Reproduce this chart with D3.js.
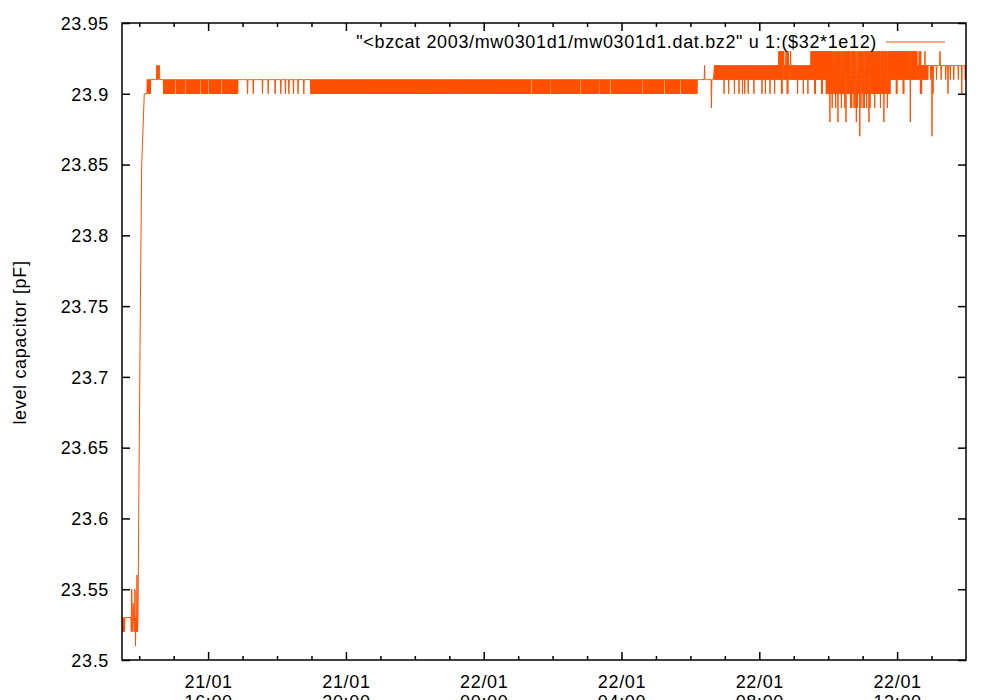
<!DOCTYPE html>
<html><head><meta charset="utf-8">
<script src="https://cdn.jsdelivr.net/npm/d3@7"></script>
<style>
body{margin:0;background:#fff}
svg{display:block}
text{font-family:"Liberation Sans",Arial,Helvetica,sans-serif;fill:#000;letter-spacing:0.65px}
</style>
</head><body>
<svg id="c" width="1000" height="700"></svg>
<script>
// ---------------- data ----------------
const xDomain = ["21/01/2003 13:30", "22/01/2003 14:00"];
const yDomain = [23.5, 23.95];
const yTicks = [23.5, 23.55, 23.6, 23.65, 23.7, 23.75, 23.8, 23.85, 23.9, 23.95];
const yTickLabels = ["23.5","23.55","23.6","23.65","23.7","23.75","23.8","23.85","23.9","23.95"];
const xMajorTicks = ["21/01/2003 16:00","21/01/2003 20:00","22/01/2003 00:00","22/01/2003 04:00","22/01/2003 08:00","22/01/2003 12:00"];
const xTickDates = ["21/01","21/01","22/01","22/01","22/01","22/01"];
const xTickTimes = ["16:00","20:00","00:00","04:00","08:00","12:00"];
const legendText = "\"<bzcat 2003/mw0301d1/mw0301d1.dat.bz2\" u 1:($32*1e12)";
const yLabel = "level capacitor [pF]";

// start-up transient: minutes after 13:30 and level [pF]
const startupMinutes = [0,0.9,1.7,2.6,3.5,4.4,5.2,15.7,16.2,17.0,17.8,18.6,19.4,20.2,21.5,22.6,23.5,24.4,25.3,26.1,27.0,27.9,29.6,31.4,33.1,34.3,36.6,38.8,43.5];
const startupValues  = [23.53,23.52,23.53,23.52,23.53,23.52,23.53,23.53,23.52,23.55,23.53,23.52,23.54,23.53,23.52,23.55,23.51,23.53,23.52,23.56,23.52,23.53,23.63,23.72,23.80,23.85,23.875,23.90,23.90];

// after start-up: 2-minute buckets, each bucket holds the readings listed
// for its code (in 0.01 pF above 23.90)
const codedStartMinute = 44;
const bucketMinutes = 2;
const levelBase = 23.90;
const levelCodes = {
  a:[1], c:[2], k:[1,2,2,2,2,1],
  A:[1,0,1,0], d:[1,0,1], u:[1,2,1], f:[1,-1,1],
  B:[2,1,2,1], E:[2,1,0,1,2,1], T:[2,3,2,1],
  C:[3,2,1,2,3,2,1,2], D:[3,2,1,0,1,2,3,2,1,0],
  F:[3,2,1,0,-1,0,1,2], G:[3,2,1,0,-2,0,1,2], H:[3,2,1,0,-3,0,1,2],
  b:[2,1,2], t:[2,3,2], p:[2,0,2], h:[2,1,-3,1,2]
};
const levelRuns = [
  "A3 a5 k3 a3",
  "A10 a A8 a A12 a A6 a A10 a A14",
  "a8 d a4 d a7 d a4 d a5 d a4 d a3 d a2 d a3 d a3 d a4 d a5",
  "A183",
  "A9 a A16 a A25 a A15 a A9 a A27 a A18 a A13 a A14",
  "a6 u a5 f a2",
  "B8 E B3 E B4 E B3 E B2 E B1 E B2 E B4 E B6 E B2 E B3 E B3 E B3",
  "C2 D C T B T D T B T B",
  "B4 E B4 E B3 E B2",
  "C3 D C5 D C3",
  "D3 G D F D2 F D G D2 F D2 F G D3 F2 D F2 G F D H F D F2 D F D G F D3 F D4 F D2 G D2 F D2",
  "C5 D C5 D C5 G C5",
  "T B T D E B2 T B2",
  "c2 b h p c2 b c2 t b c3 b c p c b c2 b c3 b c2 p c2 b c2 b"
];

// ---------------- chart ----------------
const parseT = d3.timeParse("%d/%m/%Y %H:%M");
const t0 = parseT(xDomain[0]);
const L = 122, R = 966, T = 23, B = 660;
const color = "#ff5000";

const x = d3.scaleTime().domain(xDomain.map(parseT)).range([L, R]);
const y = d3.scaleLinear().domain(yDomain).range([B, T]);

const pts = [];
startupMinutes.forEach((m, i) => pts.push({t: new Date(+t0 + m * 60000), v: startupValues[i]}));
let k = 0;
levelRuns.join(" ").split(/\s+/).filter(s => s).forEach(tok => {
  const code = tok[0];
  const n = tok.length > 1 ? +tok.slice(1) : 1;
  const vals = levelCodes[code];
  for (let r = 0; r < n; r++) {
    vals.forEach((v, j) => {
      const m = codedStartMinute + (k + j / vals.length) * bucketMinutes;
      pts.push({t: new Date(+t0 + m * 60000), v: +(levelBase + v * 0.01).toFixed(3)});
    });
    k++;
  }
});

const svg = d3.select("#c");
svg.append("rect").attr("width", 1000).attr("height", 700).attr("fill", "#fff");

svg.append("clipPath").attr("id", "clip").append("rect")
  .attr("x", L).attr("y", T).attr("width", R - L).attr("height", B - T);

svg.append("path")
  .datum(pts)
  .attr("clip-path", "url(#clip)")
  .attr("fill", "none")
  .attr("stroke", color)
  .attr("stroke-width", 1)
  .attr("d", d3.line().x(d => x(d.t)).y(d => y(d.v)));

// axes / ticks
const majors = xMajorTicks.map(parseT);
const minors = d3.timeHour.range(x.domain()[0], x.domain()[1]).filter(d => d.getHours() % 4 !== 0);

function styleAxis(g) {
  g.select(".domain").remove();
  g.selectAll(".tick line").attr("stroke", "#000").attr("stroke-width", 1.5);
}
svg.append("g").attr("transform", `translate(0,${B})`)
  .call(d3.axisBottom(x).tickValues(minors).tickSize(-4).tickFormat("")).call(styleAxis);
svg.append("g").attr("transform", `translate(0,${T})`)
  .call(d3.axisTop(x).tickValues(minors).tickSize(-4).tickFormat("")).call(styleAxis);
svg.append("g").attr("transform", `translate(0,${T})`)
  .call(d3.axisTop(x).tickValues(majors).tickSize(-8).tickFormat("")).call(styleAxis);

const gxb = svg.append("g").attr("transform", `translate(0,${B})`)
  .call(d3.axisBottom(x).tickValues(majors).tickSize(-8).tickPadding(0).tickFormat(""))
  .call(styleAxis);
gxb.selectAll(".tick text").remove();
gxb.selectAll(".tick").each(function(d, i) {
  const t = d3.select(this).append("text")
    .attr("text-anchor", "middle").attr("font-size", 18);
  t.append("tspan").attr("x", 0).attr("y", 28).text(xTickDates[i]);
  t.append("tspan").attr("x", 0).attr("y", 48).text(xTickTimes[i]);
});

const gyl = svg.append("g").attr("transform", `translate(${L},0)`)
  .call(d3.axisLeft(y).tickValues(yTicks).tickSize(-8).tickPadding(13)
    .tickFormat((d, i) => yTickLabels[i]))
  .call(styleAxis);
gyl.selectAll(".tick text").attr("font-size", 18).attr("font-family", "Liberation Sans, Arial, sans-serif")
  .attr("fill", "#000").attr("dy", "0.35em");
svg.append("g").attr("transform", `translate(${R},0)`)
  .call(d3.axisRight(y).tickValues(yTicks).tickSize(-8).tickFormat(""))
  .call(styleAxis);

// frame
svg.append("rect").attr("x", L).attr("y", T).attr("width", R - L).attr("height", B - T)
  .attr("fill", "none").attr("stroke", "#000").attr("stroke-width", 1.5);

// y label
svg.append("text")
  .attr("transform", `translate(26,${(T + B) / 2 + 1}) rotate(-90)`)
  .attr("text-anchor", "middle").attr("font-size", 18).text(yLabel);

// legend
svg.append("text").attr("x", 877).attr("y", 48).attr("text-anchor", "end")
  .attr("font-size", 18).text(legendText);
svg.append("line").attr("x1", 886).attr("x2", 945).attr("y1", 42).attr("y2", 42)
  .attr("stroke", color).attr("stroke-width", 1);
</script>
</body></html>
